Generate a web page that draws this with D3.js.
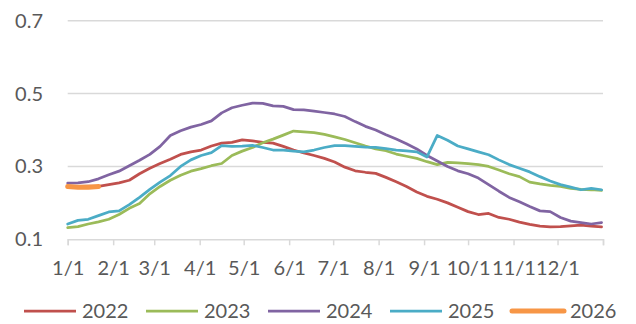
<!DOCTYPE html>
<html>
<head>
<meta charset="utf-8">
<script src="https://cdn.jsdelivr.net/npm/d3@7"></script>
<style>
  html, body { margin: 0; padding: 0; background: #fff; }
  svg text { font-family: Lato, "Open Sans", sans-serif; fill: #595959; }
</style>
</head>
<body>
<div id="chart"></div>
<script>
// weekly points, day 0 = 1/1, one step = 7 days
var weekStep = 7;

var s2022 = [0.245, 0.245, 0.246, 0.245, 0.250, 0.255, 0.262, 0.280, 0.295, 0.308,
             0.320, 0.333, 0.340, 0.345, 0.356, 0.364, 0.366, 0.373, 0.370, 0.366,
             0.364, 0.355, 0.345, 0.337, 0.330, 0.322, 0.312, 0.298, 0.288, 0.284,
             0.281, 0.270, 0.258, 0.245, 0.230, 0.218, 0.210, 0.200, 0.188, 0.176,
             0.168, 0.171, 0.160, 0.155, 0.147, 0.141, 0.136, 0.134, 0.135, 0.137,
             0.139, 0.136, 0.134];
var s2023 = [0.132, 0.135, 0.142, 0.148, 0.155, 0.168, 0.185, 0.198, 0.225, 0.245,
             0.262, 0.276, 0.287, 0.294, 0.302, 0.308, 0.330, 0.342, 0.352, 0.365,
             0.375, 0.386, 0.397, 0.395, 0.393, 0.388, 0.381, 0.374, 0.365, 0.356,
             0.348, 0.343, 0.334, 0.328, 0.322, 0.313, 0.305, 0.311, 0.310, 0.308,
             0.305, 0.300, 0.290, 0.280, 0.272, 0.257, 0.252, 0.248, 0.245, 0.240,
             0.237, 0.236, 0.234];
var s2024 = [0.254, 0.255, 0.258, 0.266, 0.277, 0.287, 0.302, 0.317, 0.333, 0.355,
             0.385, 0.398, 0.408, 0.415, 0.425, 0.447, 0.461, 0.468, 0.474, 0.473,
             0.466, 0.465, 0.456, 0.455, 0.452, 0.448, 0.444, 0.437, 0.423, 0.410,
             0.400, 0.387, 0.375, 0.362, 0.348, 0.330, 0.315, 0.300, 0.288, 0.280,
             0.268, 0.250, 0.232, 0.215, 0.203, 0.190, 0.178, 0.176, 0.160, 0.150,
             0.146, 0.142, 0.146];
var s2025 = [0.142, 0.152, 0.155, 0.165, 0.175, 0.178, 0.195, 0.215, 0.237, 0.257,
             0.275, 0.300, 0.318, 0.330, 0.338, 0.357, 0.355, 0.356, 0.358, 0.352,
             0.345, 0.345, 0.342, 0.340, 0.345, 0.352, 0.357, 0.357, 0.355, 0.353,
             0.352, 0.349, 0.345, 0.343, 0.340, 0.326, 0.385, 0.372, 0.356, 0.348,
             0.340, 0.332, 0.318, 0.305, 0.295, 0.285, 0.272, 0.260, 0.250, 0.243,
             0.236, 0.240, 0.236];
var s2026 = [0.245, 0.243, 0.243, 0.245];

var seriesNames = ['2022', '2023', '2024', '2025', '2026'];
var seriesColors = ['#C0504D', '#9BBB59', '#8064A2', '#4BACC6', '#F79646'];
var seriesWidths = [2.75, 2.75, 2.75, 2.75, 5];
var yTicks = [0.1, 0.3, 0.5, 0.7];

var width = 636, height = 324;
var margin = { left: 67.7, right: 33, top: 20.7, bottom: 84.7 };

var svg = d3.select('#chart').append('svg')
    .attr('width', width)
    .attr('height', height);

var t0 = new Date(2023, 0, 1), t1 = new Date(2024, 0, 1);
var x = d3.scaleTime()
    .domain([t0, t1])
    .range([margin.left, width - margin.right]);
var y = d3.scaleLinear()
    .domain([0.1, 0.7])
    .range([height - margin.bottom, margin.top]);

function weekDate(i) {
    return d3.timeDay.offset(t0, i * weekStep);
}

// gridlines
svg.append('g')
  .selectAll('line')
  .data(yTicks.slice(1))
  .enter().append('line')
    .attr('x1', x.range()[0])
    .attr('x2', x.range()[1])
    .attr('y1', function(d){ return y(d); })
    .attr('y2', function(d){ return y(d); })
    .attr('stroke', '#D9D9D9')
    .attr('stroke-width', 1.5);

// y labels
svg.append('g')
  .selectAll('text')
  .data(yTicks)
  .enter().append('text')
    .attr('x', 43)
    .attr('y', function(d){ return y(d); })
    .attr('dy', '0.35em')
    .attr('text-anchor', 'end')
    .style('font-size', '20px')
    .text(function(d){ return d3.format('.1f')(d); });

// x axis
var xAxis = d3.axisBottom(x)
    .tickValues(d3.timeMonth.range(t0, d3.timeDay.offset(t1, 1)))
    .tickSize(6)
    .tickFormat(function(d){ return d.getFullYear() === 2024 ? '' : (d.getMonth() + 1) + '/1'; });

var gx = svg.append('g')
    .attr('transform', 'translate(0,' + y(0.1) + ')')
    .call(xAxis);
gx.select('.domain').attr('stroke', '#D9D9D9').attr('stroke-width', 1.5);
gx.selectAll('.tick line').attr('stroke', '#D9D9D9').attr('stroke-width', 1.5);
gx.selectAll('.tick text')
    .attr('y', 22)
    .style('font-size', '20px')
    .style('font-family', 'Lato, sans-serif')
    .attr('fill', '#595959');

// series lines
var allSeries = [s2022, s2023, s2024, s2025, s2026];
var line = d3.line()
    .x(function(d, i){ return x(weekDate(i)); })
    .y(function(d){ return y(d); });

svg.append('g')
  .selectAll('path')
  .data(allSeries)
  .enter().append('path')
    .attr('d', line)
    .attr('fill', 'none')
    .attr('stroke', function(d, i){ return seriesColors[i]; })
    .attr('stroke-width', function(d, i){ return seriesWidths[i]; })
    .attr('stroke-linejoin', 'round')
    .attr('stroke-linecap', 'round');

// legend
var legend = svg.append('g')
    .attr('transform', 'translate(24,311)');
var item = legend.selectAll('g')
    .data(seriesNames)
    .enter().append('g')
    .attr('transform', function(d, i){ return 'translate(' + (i * 122) + ',0)'; });
item.append('line')
    .attr('x1', 0).attr('x2', 52)
    .attr('stroke', function(d, i){ return seriesColors[i]; })
    .attr('stroke-width', function(d, i){ return seriesWidths[i]; })
    .attr('stroke-linecap', function(d, i){ return i === 4 ? 'round' : 'butt'; });
item.append('text')
    .attr('x', 58)
    .attr('dy', '0.35em')
    .style('font-size', '20px')
    .text(function(d){ return d; });
</script>
</body>
</html>
